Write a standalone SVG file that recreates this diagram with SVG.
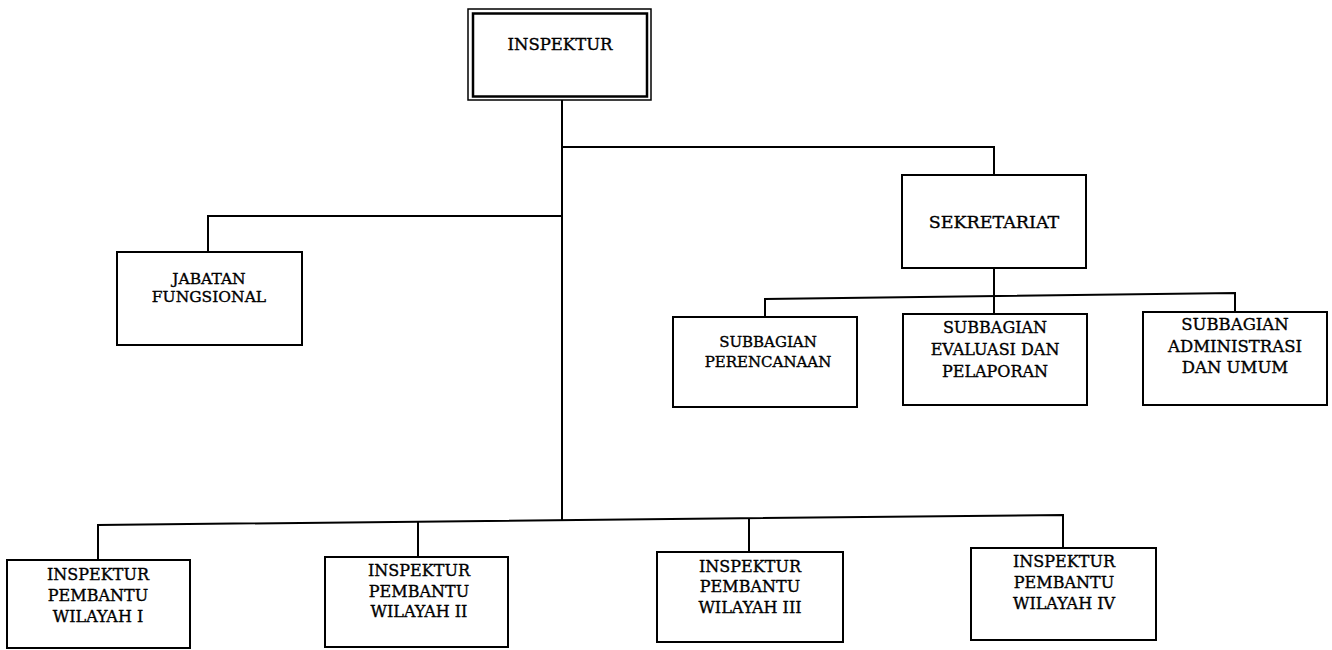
<svg xmlns="http://www.w3.org/2000/svg" width="1332" height="650" viewBox="0 0 1332 650">
<style>
.box{fill:#fff;stroke:#000;stroke-width:2}
.ln{fill:none;stroke:#000;stroke-width:2}
text{font-family:"DejaVu Serif","Liberation Serif",serif;font-size:16px;fill:#000;stroke:#000;stroke-width:0.35;text-anchor:middle}
</style>
<rect width="1332" height="650" fill="#fff"/>
<g id="connectors" class="ln">
<path class="ln" d="M562,100 V520"/>
<path class="ln" d="M562,147 H994 V175"/>
<path class="ln" d="M562,216 H208 V252"/>
<path class="ln" d="M994,268 V297"/>
<path class="ln" d="M765,317 V299 L1235,293 V312"/>
<path class="ln" d="M994,296 V314"/>
<path class="ln" d="M98,560 V525 L1063,515 V548"/>
<path class="ln" d="M418,522 V557"/>
<path class="ln" d="M749,518 V552"/>
</g>
<g id="inspektur">
<rect x="468" y="9" width="183" height="91" fill="#fff" stroke="#000" stroke-width="1.5"/>
<rect x="473" y="13.5" width="174" height="83" fill="none" stroke="#000" stroke-width="2.5"/>
<text x="560" y="50" style="font-size:16.5px">INSPEKTUR</text>
</g>
<g id="jabatan-fungsional">
<rect class="box" x="117" y="252" width="185" height="93"/>
<text x="209" y="284" style="font-size:15.5px">JABATAN</text>
<text x="209" y="302" style="font-size:15.5px">FUNGSIONAL</text>
</g>
<g id="sekretariat">
<rect class="box" x="902" y="175" width="184" height="93"/>
<text x="994" y="228" style="font-size:17.5px">SEKRETARIAT</text>
</g>
<g id="subbagian-perencanaan">
<rect class="box" x="673" y="317" width="184" height="90"/>
<text x="768" y="347" style="font-size:15px">SUBBAGIAN</text>
<text x="768" y="367" style="font-size:15px">PERENCANAAN</text>
</g>
<g id="subbagian-evaluasi">
<rect class="box" x="903" y="314" width="184" height="91"/>
<text x="995" y="333">SUBBAGIAN</text>
<text x="995" y="355">EVALUASI DAN</text>
<text x="995" y="377">PELAPORAN</text>
</g>
<g id="subbagian-administrasi">
<rect class="box" x="1143" y="312" width="184" height="93"/>
<text x="1235" y="330" style="font-size:16.5px">SUBBAGIAN</text>
<text x="1235" y="352" style="font-size:16.5px">ADMINISTRASI</text>
<text x="1235" y="373" style="font-size:16.5px">DAN UMUM</text>
</g>
<g id="wilayah-1">
<rect class="box" x="7" y="560" width="183" height="88"/>
<text x="98" y="580">INSPEKTUR</text>
<text x="98" y="601">PEMBANTU</text>
<text x="98" y="622">WILAYAH I</text>
</g>
<g id="wilayah-2">
<rect class="box" x="325" y="557" width="183" height="90"/>
<text x="419" y="576">INSPEKTUR</text>
<text x="419" y="597">PEMBANTU</text>
<text x="419" y="617">WILAYAH II</text>
</g>
<g id="wilayah-3">
<rect class="box" x="657" y="552" width="186" height="90"/>
<text x="750" y="572">INSPEKTUR</text>
<text x="750" y="592">PEMBANTU</text>
<text x="750" y="613">WILAYAH III</text>
</g>
<g id="wilayah-4">
<rect class="box" x="971" y="548" width="185" height="92"/>
<text x="1064" y="567">INSPEKTUR</text>
<text x="1064" y="588">PEMBANTU</text>
<text x="1064" y="609">WILAYAH IV</text>
</g>
</svg>
